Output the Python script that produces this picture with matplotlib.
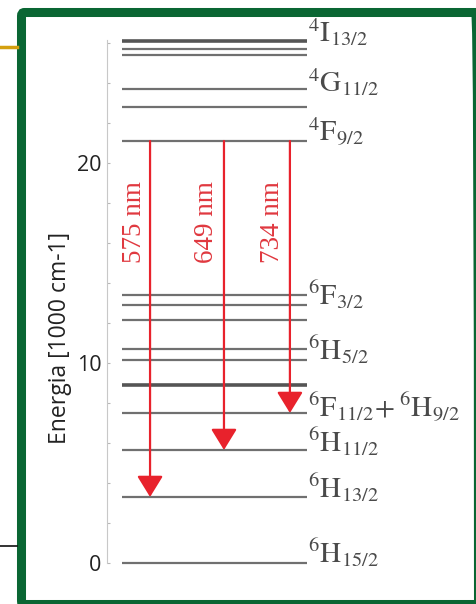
import matplotlib
matplotlib.use('Agg')
import matplotlib.pyplot as plt
from matplotlib.patches import FancyBboxPatch
from matplotlib.lines import Line2D

# energy levels [1000 cm-1]
levels = [0, 3.3, 5.65, 7.5, 8.9, 10.15, 10.7, 12.15, 12.9, 13.4,
          21.1, 22.8, 23.7, 25.4, 25.7, 26.1]
thick_levels = [8.9, 26.1]

# term labels and the level they sit on
term_labels = [r'$^{4}\mathrm{I}_{13/2}$', r'$^{4}\mathrm{G}_{11/2}$', r'$^{4}\mathrm{F}_{9/2}$',
               r'$^{6}\mathrm{F}_{3/2}$', r'$^{6}\mathrm{H}_{5/2}$',
               r'$^{6}\mathrm{F}_{11/2}\!+{}^{6}\mathrm{H}_{9/2}$',
               r'$^{6}\mathrm{H}_{11/2}$', r'$^{6}\mathrm{H}_{13/2}$', r'$^{6}\mathrm{H}_{15/2}$']
term_levels = [26.05, 23.55, 21.1, 12.9, 10.15, 7.3, 5.55, 3.25, 0]

# emission transitions
wavelengths = [575, 649, 734]
start_level = 21.1
end_levels = [3.3, 5.65, 7.5]

W, H = 477, 604
fig = plt.figure(figsize=(W / 100, H / 100), dpi=100)
plt.rcParams['mathtext.fontset'] = 'stix'

ax = fig.add_axes([107 / W, (H - 563) / H, 210 / W, 523 / H])
ax.set_xlim(0, 1)
ax.set_ylim(0, 26.15)
for s in ['top', 'right', 'bottom']:
    ax.spines[s].set_visible(False)
ax.spines['left'].set_color('#c8c8c8')
ax.set_xticks([])
ax.set_yticks(range(0, 27, 2))
ax.set_yticklabels([str(v) if v % 10 == 0 else '' for v in range(0, 27, 2)],
                   fontfamily='Open Sans', fontsize=15.5, color='#222222')
ax.tick_params(axis='y', direction='in', length=2.5, color='#b8b8b8', pad=4)

trans = ax.get_yaxis_transform()
for lv in levels:
    lw = 2.6 if lv in thick_levels else 1.6
    col = '#555555' if lv in thick_levels else '#707070'
    ax.hlines(lv, 0.07, 0.951, transform=trans, color=col, lw=lw, clip_on=False)

for lab, lv in zip(term_labels, term_levels):
    ax.text(0.955, lv, lab, transform=trans, fontsize=21, color='#4a4a4a',
            va='baseline', ha='left', clip_on=False)

arrow_x = [0.205, 0.557, 0.871]
label_x = [0.133, 0.476, 0.790]
for wl, end, xa, xl in zip(wavelengths, end_levels, arrow_x, label_x):
    ax.annotate('', xy=(xa, end), xytext=(xa, start_level), xycoords=trans,
                textcoords=trans,
                arrowprops=dict(arrowstyle='-|>,head_length=0.65,head_width=0.4',
                                mutation_scale=20, color='#e8222c', lw=1.6,
                                shrinkA=0, shrinkB=0))
    ax.text(xl, 17.07, f'{wl} nm', transform=trans, rotation=90, fontsize=19.5,
            fontfamily='Liberation Serif', color='#e0383f', ha='center', va='center')

fig.text(60 / W, 1 - 338 / H, 'Energia [1000 cm-1]', rotation=90, fontsize=16.5,
         fontfamily='Open Sans', color='#222222', ha='center', va='center')

# slide decoration: frame and stray lines
x0, y0, x1, y1 = 21.5, 12.5, 478.5, 604.5
frame = FancyBboxPatch((x0 / W, 1 - y1 / H), (x1 - x0) / W, (y1 - y0) / H,
                       boxstyle='round,pad=0,rounding_size=0.006',
                       transform=fig.transFigure, fill=False, ec='#0a6633', lw=6.5)
fig.patches.append(frame)
fig.add_artist(Line2D([0, 17 / W], [1 - 47 / H] * 2, transform=fig.transFigure,
                      color='#d4a00f', lw=2.5))
fig.add_artist(Line2D([0, 17 / W], [1 - 546 / H] * 2, transform=fig.transFigure,
                      color='#111111', lw=1.2))

fig.savefig('out.png', dpi=100)
